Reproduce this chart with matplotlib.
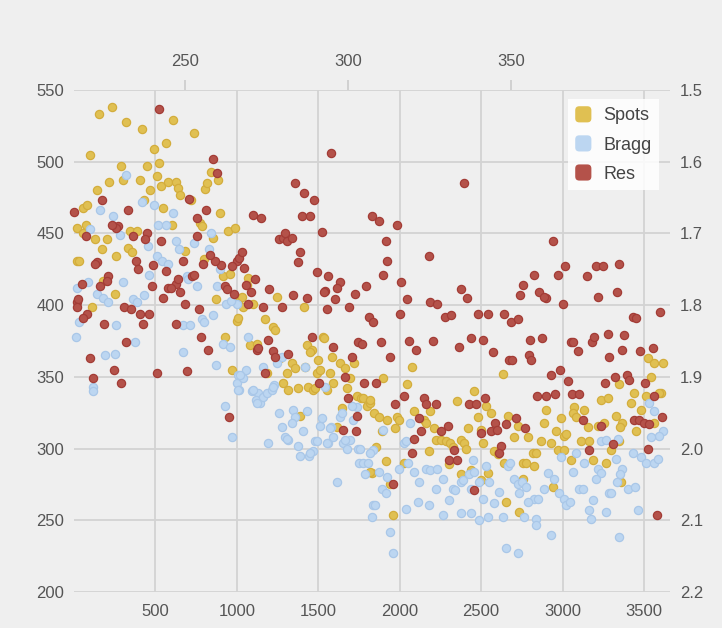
import matplotlib
matplotlib.use("Agg")
import matplotlib.pyplot as plt
from matplotlib.patches import FancyBboxPatch, Patch
from matplotlib.legend_handler import HandlerPatch

# ---------------- data (image number, value) ----------------
spots_points = [
    (154,533),(233,538),(98,505),(320,528),(420,523),(492,509),(565,513),(610,529),(738,520),(523,499),
    (449,497),(289,497),(141,480),(215,486),(301,487),(406,487),(431,473),(467,480),(510,490),(535,483),
    (578,486),(627,486),(640,482),(652,477),(547,468),(720,473),(806,481),(818,485),(842,493),(886,487),
    (898,464),(775,457),(787,455),(603,456),(947,452),(990,454),(18,454),(55,468),(80,470),(74,456),
    (55,450),(129,446),(203,446),(172,439),(332,440),(357,437),(344,452),(387,452),(258,434),(18,431),
    (30,431),(683,438),(855,447),(800,432),(916,420),(959,422),(1070,419),(1064,414),(252,408),(178,417),
    (873,404),(1009,402),(1039,399),(1248,406),(1414,399),(1175,390),(1224,385),(1235,383),(1002,389),(1010,391),
    (929,378),(1531,378),(111,399),(1033,406),(1101,401),
    (972,355),(1082,372),(1125,373),(1187,353),(1267,363),(1285,346),(1310,353),(1316,341),(1341,360),(1359,356),
    (1378,342),(1390,323),(1421,357),(1433,372),(1464,369),(1439,343),(1470,341),(1501,362),(1494,353),(1556,341),
    (1574,353),(1587,364),(1593,346),(1617,315),(1636,360),(1648,328),(1667,356),(1679,342),(1697,349),(1722,360),
    (1740,337),(1451,367),(1482,342),(1513,355),(1537,377),(1765,335),(1777,335),(1802,330),(1815,332),(1833,283),
    (2073,357),(1900,349),(2042,345),(1820,334),(1840,325),(1870,322),(1925,320),(1986,322),(1993,320),(1974,314),
    (1894,312),(2085,326),(2147,320),(2189,326),(2159,318),(2208,314),(2220,306),(2251,306),(2282,305),(2312,304),
    (2325,301),(2349,333),(2374,306),(2392,304),(2405,300),(2417,314),(2454,340),(2478,322),(2497,313),(2528,330),
    (2509,304),(1857,301),(1913,291),(2024,290),(1820,284),(1943,275),(1956,254),(2177,298),(2300,289),(2374,282),
    (2435,285),(2497,278),(2540,283),(2632,352),(2558,325),(2577,298),(2602,296),(2638,290),(2663,323),(2700,308),
    (2724,316),(2755,290),(2651,263),(2731,256),
    (3524,363),(3561,360),(3616,360),(3542,350),(3346,345),(3438,339),(3420,332),(3512,337),(3604,339),(3235,334),
    (3278,335),(2897,327),(3069,329),(3063,325),(3130,327),(3081,322),(2884,318),(2989,321),(3327,323),(3481,327),
    (3561,318),(3364,318),(3352,315),(3216,316),(3155,315),(3253,318),(3450,312),(2786,308),(2958,312),(3007,309),
    (3020,310),(2866,305),(2927,304),(3112,305),(3161,305),(3346,305),(2970,299),(3007,299),(3296,299),(2816,297),
    (2835,297),(2774,290),(2823,288),(3050,292),(3186,292),(3266,290),(2755,279),(2940,273),(3358,277),(3592,339),
]

bragg_points = [
    (18,412),(12,378),(86,416),(160,466),(240,462),(98,453),(141,408),(178,405),(209,402),(31,388),
    (258,386),(301,416),(283,449),(320,491),(363,404),(387,402),(431,407),(418,472),(455,441),(461,421),
    (492,470),(510,434),(517,456),(565,456),(541,431),(578,429),(609,464),(627,445),(646,439),(695,420),
    (700,418),(670,386),(713,386),(738,443),(756,413),(787,390),(800,388),(830,439),(842,450),(855,393),
    (880,413),(898,425),(935,401),(1002,401),(965,403),(1070,378),
    (117,343),(117,340),(191,365),(252,366),(375,374),(670,367),(873,358),(916,373),(959,371),(929,330),
    (972,308),(1002,346),(1015,341),(1039,349),(1058,355),(1095,340),(1132,339),(1119,334),(1144,332),(1162,336),
    (1187,339),(1218,341),(1230,344),(1162,357),(1248,360),(1261,325),(1279,315),(1298,308),(1316,306),(1347,327),
    (1359,322),(1378,302),(1390,295),(1408,312),(1433,326),(1445,295),(1470,298),(1482,305),(1513,316),(1525,321),
    (1544,343),(1562,304),(1581,315),(1593,308),(1617,277),(1636,322),(1654,304),(1679,300),(1697,306),(1716,320),
    (1740,329),(1747,300),(1753,290),(1193,304),(1310,307),(1341,318),(1451,297),(1494,305),(1556,304),(1574,314),
    (1648,325),(1667,306),(1710,330),(1759,300),(1777,290),(1790,282),(1833,252),(1839,261),(1839,299),(1808,290),
    (1009,351),(1021,351),(1009,341),(1101,341),(1125,332),(1224,343),(1279,364),(1421,357),
    (1900,313),(1820,297),(1870,284),(1894,272),(1925,280),(1913,269),(1851,261),(1943,242),(1956,227),(1993,286),
    (2024,304),(2036,305),(2066,318),(2054,290),(2085,284),(2116,277),(2036,258),(2110,263),(2159,286),(2189,285),
    (2232,286),(2269,279),(2220,272),(2177,261),(2263,254),(2300,264),(2325,272),(2340,271),(2374,277),(2390,278),
    (2423,282),(2448,292),(2454,284),(2435,272),(2485,277),(2509,265),(2528,288),(2546,277),(2374,255),(2435,255),
    (2485,250),(2540,252),(2608,270),(2577,262),(2632,252),(2663,288),(2680,290),(2700,279),(2724,275),(2750,277),
    (2731,269),(2651,231),(2724,227),
    (3530,332),(3561,326),(3616,312),(3592,309),(3542,308),(3235,305),(3266,306),(3339,307),(3432,297),(3481,294),
    (3512,290),(3561,290),(3585,293),(2989,294),(3081,297),(3130,290),(3063,284),(3327,293),(3216,286),(3235,283),
    (3204,279),(3364,286),(3352,282),(3333,277),(3401,272),(3444,273),(2909,283),(2946,279),(2774,273),(2884,272),
    (2977,269),(3007,265),(3020,261),(3045,263),(3100,272),(3125,272),(3186,264),(3284,269),(3296,269),(2823,265),
    (2786,263),(2850,265),(2761,252),(2835,251),(2835,247),(3161,257),(3173,251),(3266,256),(3463,257),(2927,240),
    (3346,238),
]

# resolution in Angstrom (right axis, inverted)
res_points = [
    (0,1.670),(172,1.654),(332,1.668),(523,1.526),(855,1.596),(880,1.616),(707,1.652),(756,1.678),(812,1.668),(1101,1.674),
    (1150,1.678),(1581,1.588),(1359,1.630),(1414,1.644),(1476,1.654),(1402,1.676),(1451,1.676),(1525,1.698),(1261,1.708),(1285,1.706),
    (1310,1.710),(1341,1.706),(1298,1.700),(1390,1.726),(1378,1.740),(1494,1.754),(1562,1.760),(1636,1.768),(1544,1.780),(1617,1.776),
    (1728,1.784),(1605,1.792),(1556,1.806),(1691,1.802),(1433,1.790),(1347,1.786),(1199,1.778),(1279,1.802),(1162,1.802),(1113,1.764),
    (1070,1.798),(1058,1.772),(1089,1.782),(1045,1.748),(1002,1.738),(1015,1.734),(1033,1.726),(972,1.746),(929,1.774),(941,1.778),
    (904,1.744),(867,1.738),(836,1.730),(793,1.742),(756,1.704),(670,1.738),(726,1.760),(738,1.758),(652,1.782),(627,1.770),
    (640,1.764),(578,1.776),(595,1.776),(547,1.790),(565,1.752),(486,1.744),(480,1.774),(535,1.710),(449,1.700),(437,1.708),
    (363,1.704),(381,1.738),(393,1.750),(271,1.690),(258,1.692),(234,1.688),(74,1.704),(141,1.740),(129,1.742),(209,1.760),
    (203,1.766),(160,1.774),(49,1.770),(308,1.802),(351,1.806),(406,1.812),(461,1.812),(424,1.826),(683,1.798),(627,1.826),
    (769,1.806),(18,1.796),(25,1.792),(18,1.802),(80,1.812),(55,1.818),(184,1.826),(98,1.874),(117,1.902),(246,1.890),
    (289,1.908),(320,1.852),(510,1.894),(695,1.892),(781,1.844),(824,1.862),(953,1.956),(1125,1.862),(1175,1.894),(1193,1.848),
    (1224,1.864),(1236,1.872),(1316,1.868),(1464,1.844),(1507,1.908),(1593,1.858),(1654,1.974),(1667,1.900),(1685,1.930),(1710,1.872),
    (1740,1.954),(1747,1.852),(984,1.784),(1537,1.782),(1796,1.774),(1814,1.816),(1839,1.824),(1827,1.676),(1870,1.682),(1986,1.688),
    (1913,1.710),(1925,1.738),(2177,1.732),(1900,1.758),(2011,1.768),(2042,1.792),(2189,1.796),(2232,1.798),(2374,1.778),(2411,1.790),
    (2392,1.630),(2755,1.772),(2737,1.786),(1999,1.812),(2276,1.816),(2318,1.814),(2478,1.812),(2540,1.812),(2638,1.812),(2681,1.824),
    (2724,1.820),(2940,1.710),(2823,1.758),(3014,1.746),(2970,1.758),(3204,1.746),(3247,1.746),(3346,1.742),(3149,1.760),(2853,1.782),
    (2897,1.790),(2885,1.788),(3001,1.798),(3216,1.788),(3333,1.782),(3432,1.816),(3450,1.818),(3598,1.810),(1888,1.852),(1943,1.872),
    (2060,1.850),(2103,1.862),(2202,1.850),(2362,1.858),(2435,1.846),(2509,1.848),(2571,1.866),(2670,1.876),(2690,1.876),(1857,1.908),
    (2024,1.926),(1974,1.938),(2147,1.930),(2159,1.938),(2220,1.938),(2423,1.938),(2466,1.938),(2521,1.930),(2116,1.958),(2128,1.976),
    (2085,1.986),(2251,1.976),(2294,1.968),(2331,2.002),(2300,2.016),(2349,2.016),(2073,2.006),(1956,2.050),(2454,2.058),(2497,1.978),
    (2558,1.976),(2583,1.964),(2595,1.974),(2651,1.966),(2712,1.958),(2620,1.996),(2608,2.006),(2767,1.972),(2798,1.848),(2872,1.846),
    (3050,1.852),(3065,1.852),(3094,1.864),(3180,1.852),(3192,1.844),(3278,1.840),(3376,1.842),(3364,1.862),(3475,1.864),(3555,1.860),
    (3284,1.872),(2792,1.870),(2805,1.876),(2927,1.898),(2983,1.890),(3032,1.906),(3260,1.908),(3321,1.900),(3395,1.898),(3410,1.904),
    (3506,1.908),(2841,1.926),(2897,1.926),(2952,1.924),(3057,1.924),(3100,1.924),(3561,1.926),(3124,1.960),(3235,1.968),(3438,1.960),
    (3470,1.960),(3500,1.964),(3530,1.966),(3610,1.956),(3309,1.994),(3161,2.002),(3524,2.000),(3579,2.092),(1132,1.860),(1771,1.854),
    (1783,1.908),(1734,1.976),
]

series_names = ["Spots", "Bragg", "Res"]
left_ticks = [200, 250, 300, 350, 400, 450, 500, 550]
right_ticks = [1.5, 1.6, 1.7, 1.8, 1.9, 2.0, 2.1, 2.2]
bottom_ticks = [500, 1000, 1500, 2000, 2500, 3000, 3500]
top_ticks = [250, 300, 350]

# ---------------- style ----------------
BG = "#efefef"
GRID = "#d3d3d3"
TXT = "#555555"
face = {"Spots": "#e0c052", "Bragg": "#bcd6f1", "Res": "#b4524a"}
edge = {"Spots": "#d3ad3c", "Bragg": "#a9c7e8", "Res": "#a33c36"}
FONT = ["Liberation Sans", "DejaVu Sans"]
plt.rcParams["font.family"] = FONT

W, H = 722, 628
fig = plt.figure(figsize=(W / 100, H / 100), dpi=100, facecolor=BG)
L, R, T, B = 74, 670, 90, 592
ax = fig.add_axes([L / W, 1 - B / H, (R - L) / W, (B - T) / H])
ax.set_facecolor(BG)
ax.set_xlim(0, 3660)
ax.set_ylim(200, 550)
for s in ax.spines.values():
    s.set_visible(False)
ax.set_yticks(left_ticks)
ax.set_yticklabels([str(v) for v in left_ticks])
ax.set_xticks(bottom_ticks)
ax.set_xticklabels([str(v) for v in bottom_ticks])
ax.tick_params(axis="both", length=0, colors=TXT, labelsize=12)
ax.tick_params(axis="y", pad=7)
ax.tick_params(axis="x", pad=9)
ax.grid(True, color=GRID, linewidth=1.3, zorder=0)
ax.set_axisbelow(True)

msize = 35
sx, sy = zip(*spots_points)
ax.scatter(sx, sy, s=msize, c=face["Spots"], edgecolors=edge["Spots"], linewidths=0.9, zorder=3, clip_on=False)
bx, by = zip(*bragg_points)
ax.scatter(bx, by, s=msize, c=face["Bragg"], edgecolors=edge["Bragg"], linewidths=0.9, zorder=3, clip_on=False)

ax2 = ax.twinx()
ax2.set_ylim(2.2, 1.5)
ax2.set_yticks(right_ticks)
ax2.set_yticklabels([f"{v:.1f}" for v in right_ticks])
ax2.tick_params(axis="y", length=0, colors=TXT, labelsize=12, pad=7)
for s in ax2.spines.values():
    s.set_visible(False)
rx, rv = zip(*res_points)
ax2.scatter(rx, rv, s=msize, c=face["Res"], edgecolors=edge["Res"], linewidths=0.9, zorder=3, clip_on=False)

ax3 = ax.twiny()
ax3.set_xlim(215.8, 398.8)
ax3.set_xticks(top_ticks)
ax3.set_xticklabels([str(v) for v in top_ticks])
ax3.tick_params(axis="x", length=7, width=1.2, color="#cccccc", labelcolor=TXT, labelsize=12, pad=8)
for s in ax3.spines.values():
    s.set_visible(False)


class RoundHandler(HandlerPatch):
    def create_artists(self, legend, orig_handle, xdescent, ydescent, width, height, fontsize, trans):
        side = min(width, height)
        p = FancyBboxPatch((-xdescent, -ydescent + (height - side) / 2), side, side,
                           boxstyle="round,pad=0,rounding_size=%f" % (side * 0.25),
                           facecolor=orig_handle.get_facecolor(), edgecolor="none", transform=trans)
        return [p]


handles = [Patch(facecolor=face[n]) for n in series_names]
leg = ax3.legend(handles, series_names, handler_map={Patch: RoundHandler()},
                 loc="upper left", bbox_to_anchor=(568 / W, 1 - 99 / H), bbox_transform=fig.transFigure,
                 borderaxespad=0, fontsize=13, handlelength=1.0, handleheight=1.0, handletextpad=0.55,
                 labelspacing=0.6, borderpad=0.4, frameon=True, fancybox=False)
leg.get_frame().set_facecolor("white")
leg.get_frame().set_alpha(0.85)
leg.get_frame().set_edgecolor("none")
leg.set_zorder(10)
for t in leg.get_texts():
    t.set_color("#444444")

fig.savefig("out.png", dpi=100, facecolor=BG)
